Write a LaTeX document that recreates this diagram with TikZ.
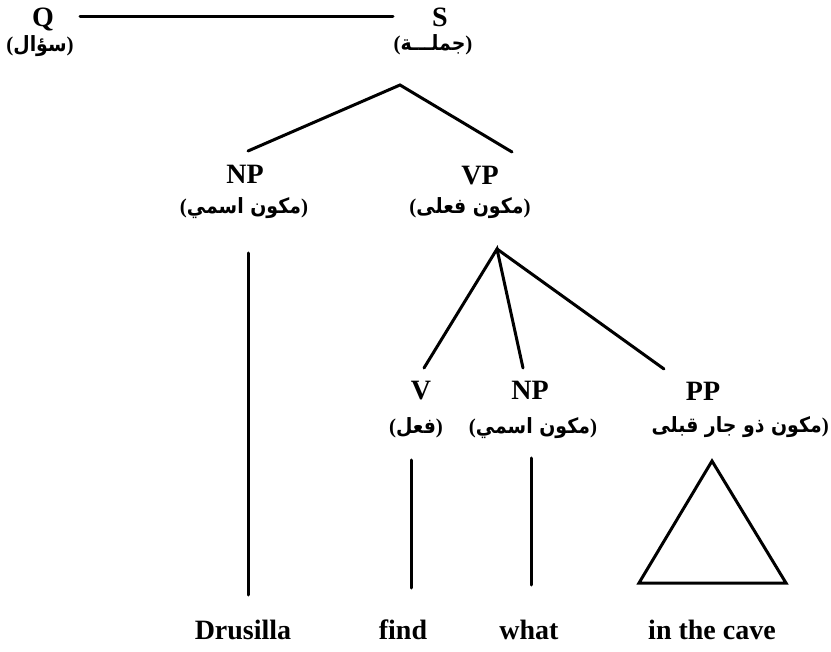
\documentclass[tikz,border=0pt]{standalone}
\usepackage{fontspec}
\setmainfont{Liberation Serif}
\newfontfamily\arfont[Script=Arabic]{DejaVu Sans Condensed}
\TeXXeTstate=1
\newcommand{\artxt}[1]{{\arfont\beginR #1\endR}}
\tikzset{
  lab/.style={font=\fontsize{28}{30}\selectfont\bfseries, inner sep=0pt, text height=19pt, text depth=0pt},
  arlab/.style={font=\fontsize{21}{24}\selectfont\bfseries, inner sep=0pt},
  word/.style={font=\fontsize{28}{30}\selectfont\bfseries, inner sep=0pt, text height=19pt, text depth=6pt},
  branch/.style={line width=3pt, line cap=round},
}
\begin{document}
\begin{tikzpicture}[x=1pt,y=-1pt]
\useasboundingbox (0,0) rectangle (831,652);
% top row
\node[lab] (Q) at (43,17) {Q};
\node[lab] (S) at (440,17) {S};
\node[arlab] (Qg) at (40,46) {(\artxt{سؤال})};
\node[arlab] (Sg) at (433,45) {(\artxt{جملـــة})};
\draw[branch, shorten <=37pt, shorten >=47pt] (Q.center) -- (S.center);
% S branches
\coordinate (Sb) at (400,85);
\coordinate (NPa) at (248,151);
\coordinate (VPa) at (512,152);
\draw[branch] (NPa) -- (Sb) -- (VPa);
% NP, VP
\node[lab] (NP) at (245,174) {NP};
\node[arlab] (NPg) at (244,208) {(\artxt{مكون اسمي})};
\node[lab] (VP) at (480,175) {VP};
\node[arlab] (VPg) at (470,208) {(\artxt{مكون فعلى})};
% NP vertical
\coordinate (NPl1) at (248,253);
\coordinate (NPl2) at (248,595);
\draw[branch] (NPl1) -- (NPl2);
% VP branches
\coordinate (VPb) at (497,249);
\coordinate (Va) at (424,368);
\coordinate (NPba) at (523,368);
\coordinate (PPa) at (664,369);
\draw[branch] (Va) -- (VPb) -- (NPba);
\draw[branch] (VPb) -- (PPa);
% lower labels
\node[lab] (V) at (421,390) {V};
\node[arlab] (Vg) at (416,428) {(\artxt{فعل})};
\node[lab] (NPb) at (530,390) {NP};
\node[arlab] (NPbg) at (533,428) {(\artxt{مكون اسمي})};
\node[lab] (PP) at (703,391) {PP};
\node[arlab, anchor=east] (PPg) at (829,427) {\artxt{مكون ذو جار قبلى})};
% lower lines
\coordinate (Vl1) at (411,460);
\coordinate (Vl2) at (411,588);
\draw[branch] (Vl1) -- (Vl2);
\coordinate (Nl1) at (531,458);
\coordinate (Nl2) at (531,585);
\draw[branch] (Nl1) -- (Nl2);
\coordinate (T1) at (712,461);
\coordinate (T2) at (639,583);
\coordinate (T3) at (786,583);
\draw[branch, line join=miter] (T1) -- (T2) -- (T3) -- cycle;
% words
\node[word] (w1) at (243,633) {Drusilla};
\node[word] (w2) at (403,633) {find};
\node[word] (w3) at (529,633) {what};
\node[word] (w4) at (712,633) {in the cave};
\end{tikzpicture}
\end{document}
